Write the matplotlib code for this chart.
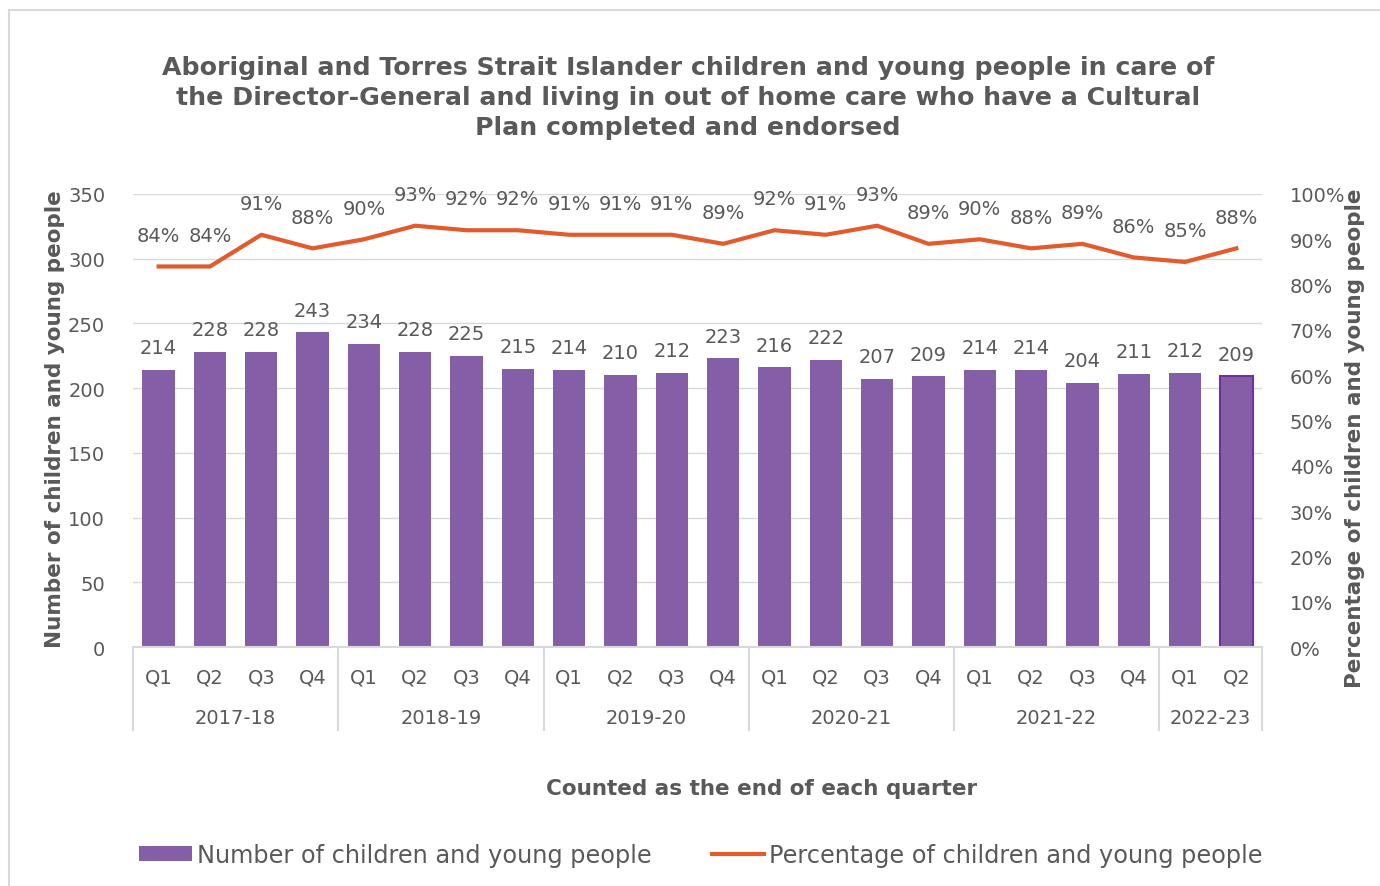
import matplotlib
matplotlib.use("Agg")
import matplotlib.pyplot as plt
import matplotlib.transforms as mtransforms
from matplotlib.lines import Line2D
from matplotlib.patches import Patch
import numpy as np

plt.rcParams['font.family'] = ['DejaVu Sans']

title = ("Aboriginal and Torres Strait Islander children and young people in care of\n"
         "the Director-General and living in out of home care who have a Cultural\n"
         "Plan completed and endorsed")
quarters = ["Q1", "Q2", "Q3", "Q4"] * 5 + ["Q1", "Q2"]
years = ["2017-18", "2018-19", "2019-20", "2020-21", "2021-22", "2022-23"]
year_sizes = [4, 4, 4, 4, 4, 2]
counts = [214, 228, 228, 243, 234, 228, 225, 215, 214, 210, 212, 223,
          216, 222, 207, 209, 214, 214, 204, 211, 212, 209]
percents = [84, 84, 91, 88, 90, 93, 92, 92, 91, 91, 91, 89,
            92, 91, 93, 89, 90, 88, 89, 86, 85, 88]
left_ticks = [0, 50, 100, 150, 200, 250, 300, 350]
right_ticks = [0, 10, 20, 30, 40, 50, 60, 70, 80, 90, 100]

BAR = "#845EA6"
LINE = "#E35A2C"
TXT = "#595959"
GRID = "#D9D9D9"

W, H = 1380, 887
fig = plt.figure(figsize=(W / 100, H / 100), dpi=100)
ax = fig.add_axes([133 / W, 1 - 648 / H, (1262 - 133) / W, (648 - 195) / H])

x = np.arange(len(counts))
bars = ax.bar(x, counts, width=0.63, color=BAR, zorder=2)
bars[-1].set_edgecolor("#7030A0")
bars[-1].set_linewidth(1.5)

ax.set_xlim(-0.5, len(counts) - 0.5)
ax.set_ylim(0, 350)
ax.set_yticks(left_ticks)
ax.set_yticklabels([str(v) for v in left_ticks])
ax.grid(axis="y", color=GRID, linewidth=1, zorder=0)
for s in ["top", "left", "right"]:
    ax.spines[s].set_visible(False)
ax.spines["bottom"].set_color(GRID)
ax.spines["bottom"].set_linewidth(1.5)
ax.tick_params(axis="y", length=0, pad=20, labelsize=14, labelcolor=TXT)
ax.set_xticks(x)
ax.set_xticklabels(quarters)
ax.tick_params(axis="x", length=0, pad=14.5, labelsize=14, labelcolor=TXT)

for xi, v in zip(x, counts):
    ax.annotate(str(v), (xi, v), xytext=(0, 16), textcoords="offset points",
                ha="center", va="center", fontsize=14, color=TXT)

# group separators and year labels
trans = mtransforms.blended_transform_factory(ax.transData, ax.transAxes)
edges = np.concatenate([[0], np.cumsum(year_sizes)]) - 0.5
for e in edges:
    ax.add_line(Line2D([e, e], [0, -83 / 453], transform=trans, color=GRID,
                       linewidth=1.5, clip_on=False))
for i, yl in enumerate(years):
    c = (edges[i] + edges[i + 1]) / 2
    ax.text(c, -70 / 453, yl, transform=trans, ha="center", va="center",
            fontsize=14, color=TXT)

ax2 = ax.twinx()
ax2.set_ylim(0, 1)
ax2.plot(x, np.array(percents) / 100, color=LINE, linewidth=3, zorder=3)
for s in ["top", "left", "right", "bottom"]:
    ax2.spines[s].set_visible(False)
ax2.set_yticks(np.array(right_ticks) / 100)
ax2.set_yticklabels([f"{v}%" for v in right_ticks])
ax2.tick_params(axis="y", length=0, pad=20, labelsize=14, labelcolor=TXT)
for xi, p in zip(x, percents):
    ax2.annotate(f"{p}%", (xi, p / 100), xytext=(0, 22.5), textcoords="offset points",
                 ha="center", va="center", fontsize=14, color=TXT)

fig.text(55 / W, 1 - 419 / H, "Number of children and young people", rotation=90,
         ha="center", va="center", fontsize=15.5, fontweight="bold", color=TXT)
fig.text(1355 / W, 1 - 438 / H, "Percentage of children and young people", rotation=90,
         ha="center", va="center", fontsize=15.5, fontweight="bold", color=TXT)
fig.text(762 / W, 1 - 789 / H, "Counted as the end of each quarter",
         ha="center", va="center", fontsize=15.5, fontweight="bold", color=TXT)
fig.text(688 / W, 1 - 98 / H, title, ha="center", va="center", fontsize=18.2,
         fontweight="bold", color=TXT, linespacing=1.32)

handles = [Patch(facecolor=BAR, edgecolor="none"),
           Line2D([0], [0], color=LINE, linewidth=3)]
labels = ["Number of children and young people", "Percentage of children and young people"]
fig.legend(handles, labels, loc="center", bbox_to_anchor=(701 / W, 1 - 856 / H), ncol=2,
           frameon=False, fontsize=17.3, labelcolor=TXT, handlelength=2.2,
           handleheight=0.55, handletextpad=0.2, columnspacing=2.5)

# outer border lines
fig.add_artist(Line2D([9 / W, 1], [1 - 11 / H, 1 - 11 / H], color=GRID, linewidth=1.5,
                      transform=fig.transFigure))
fig.add_artist(Line2D([9 / W, 9 / W], [0, 1 - 11 / H], color=GRID, linewidth=1.5,
                      transform=fig.transFigure))

fig.savefig("out.png", dpi=100)
